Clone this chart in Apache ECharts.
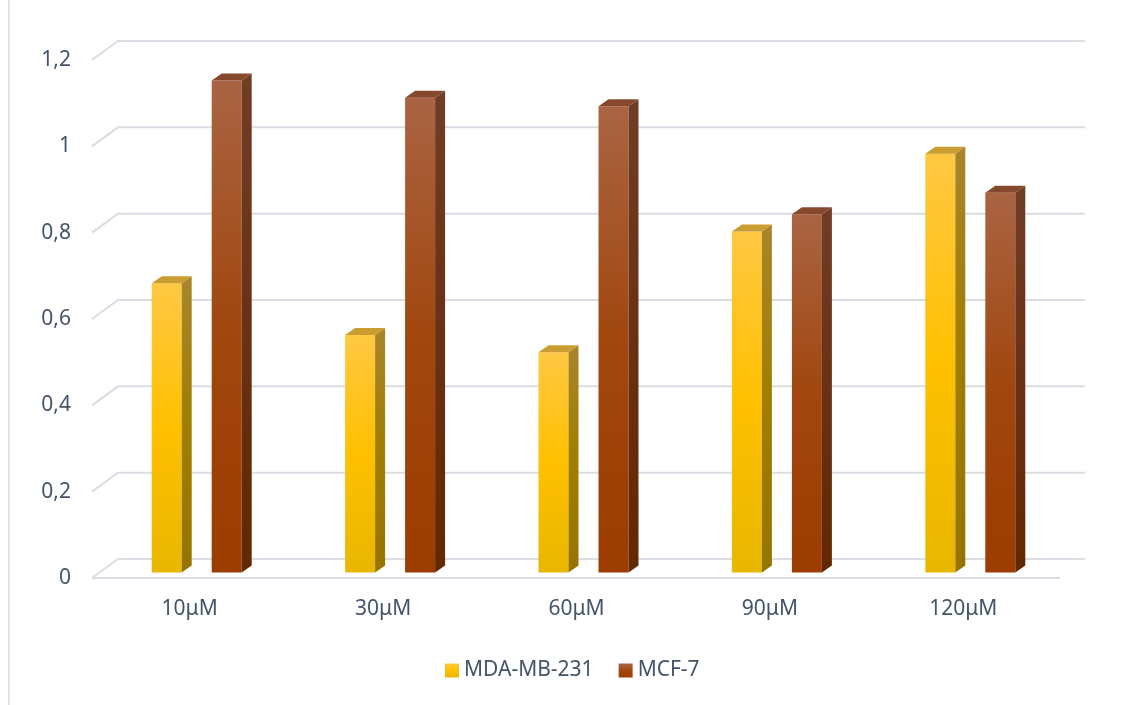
<!DOCTYPE html>
<html>
<head>
<meta charset="utf-8">
<script src="https://cdn.jsdelivr.net/npm/echarts@6/dist/echarts.min.js"></script>
<style>
html, body { margin: 0; padding: 0; background: #fff; }
#main { width: 1131px; height: 705px; }
</style>
</head>
<body>
<div id="main"></div>
<script>
var categories = ['10μM', '30μM', '60μM', '90μM', '120μM'];
var mdaValues = [0.67, 0.55, 0.51, 0.79, 0.97];
var mcfValues = [1.14, 1.10, 1.08, 0.83, 0.88];
var yTicks = [0, 0.2, 0.4, 0.6, 0.8, 1, 1.2];

var textColor = '#44546a';
var gridColor = '#d9dde4';
var depthX = 25, depthY = 19;
var barW = 30, barDX = 10, barDY = 7, barLift = 5.5;

function vGrad(top, bottom) {
    return new echarts.graphic.LinearGradient(0, 0, 0, 1, [
        { offset: 0, color: top[0] },
        { offset: 0.5, color: top[1] },
        { offset: 1, color: bottom }
    ]);
}

var looks = {
    mda: {
        offset: -38,
        front: vGrad(['#ffc843', '#ffc000'], '#e8b700'),
        side: vGrad(['#a8852a', '#a07e00'], '#977400'),
        top: '#c99d2f'
    },
    mcf: {
        offset: 22,
        front: vGrad(['#aa6443', '#a1470f'], '#9c3c00'),
        side: vGrad(['#703d25', '#6a3114'], '#622800'),
        top: '#87492e'
    }
};

function barRenderer(look) {
    return function (params, api) {
        var i = api.value(0);
        var base = api.coord([i, 0]);
        var top = api.coord([i, api.value(1)]);
        var x0 = base[0] + look.offset;
        var yb = base[1] - barLift;
        var yt = top[1] - barLift;
        return {
            type: 'group',
            children: [
                {
                    type: 'rect',
                    shape: { x: x0, y: yt, width: barW, height: yb - yt },
                    style: { fill: look.front }
                },
                {
                    type: 'polygon',
                    shape: { points: [[x0 + barW, yt], [x0 + barW + barDX, yt - barDY], [x0 + barW + barDX, yb - barDY], [x0 + barW, yb]] },
                    style: { fill: look.side }
                },
                {
                    type: 'polygon',
                    shape: { points: [[x0, yt], [x0 + barDX, yt - barDY], [x0 + barW + barDX, yt - barDY], [x0 + barW, yt]] },
                    style: { fill: look.top }
                }
            ]
        };
    };
}

function renderWall(params, api) {
    var cs = params.coordSys;
    var v = api.value(1);
    var y = api.coord([0, v])[1];
    var children = [{
        type: 'polyline',
        shape: { points: [[cs.x - 1, y], [cs.x + depthX, y - depthY], [cs.x + cs.width + depthX, y - depthY]] },
        style: { stroke: gridColor, lineWidth: 2, fill: null }
    }];
    if (v === 0) {
        children.push({
            type: 'line',
            shape: { x1: cs.x - 1, y1: y, x2: cs.x + cs.width, y2: y },
            style: { stroke: gridColor, lineWidth: 2 }
        });
    }
    return { type: 'group', children: children };
}

var myChart = echarts.init(document.getElementById('main'));
var option = {
    backgroundColor: '#fff',
    animation: false,
    textStyle: { fontFamily: 'Noto Sans' },
    graphic: [{
        type: 'line',
        shape: { x1: 9, y1: 0, x2: 9, y2: 705 },
        style: { stroke: '#d9d9d9', lineWidth: 1.5 }
    }],
    grid: { left: 93, right: 71, top: 60, bottom: 127 },
    legend: {
        data: ['MDA-MB-231', 'MCF-7'],
        top: 655,
        left: 440,
        icon: 'rect',
        itemWidth: 14,
        itemHeight: 14,
        itemGap: 25,
        textStyle: { color: textColor, fontSize: 21, fontFamily: 'Noto Sans' }
    },
    xAxis: {
        type: 'category',
        data: categories,
        axisLine: { show: false },
        axisTick: { show: false },
        splitLine: { show: false },
        axisLabel: { color: textColor, fontSize: 21, margin: 21 }
    },
    yAxis: {
        type: 'value',
        min: 0,
        max: 1.2,
        interval: 0.2,
        axisLine: { show: false },
        axisTick: { show: false },
        splitLine: { show: false },
        axisLabel: {
            color: textColor,
            fontSize: 21,
            margin: 22,
            formatter: function (v) { return String(+v.toFixed(1)).replace('.', ','); }
        }
    },
    series: [
        {
            name: 'wall',
            type: 'custom',
            renderItem: renderWall,
            data: yTicks.map(function (v) { return [0, v]; }),
            z: 1,
            silent: true
        },
        {
            name: 'MDA-MB-231',
            type: 'custom',
            renderItem: barRenderer(looks.mda),
            itemStyle: { color: looks.mda.front },
            data: mdaValues.map(function (v, i) { return [i, v]; }),
            z: 2
        },
        {
            name: 'MCF-7',
            type: 'custom',
            renderItem: barRenderer(looks.mcf),
            itemStyle: { color: looks.mcf.front },
            data: mcfValues.map(function (v, i) { return [i, v]; }),
            z: 2
        }
    ]
};
myChart.setOption(option);
</script>
</body>
</html>
